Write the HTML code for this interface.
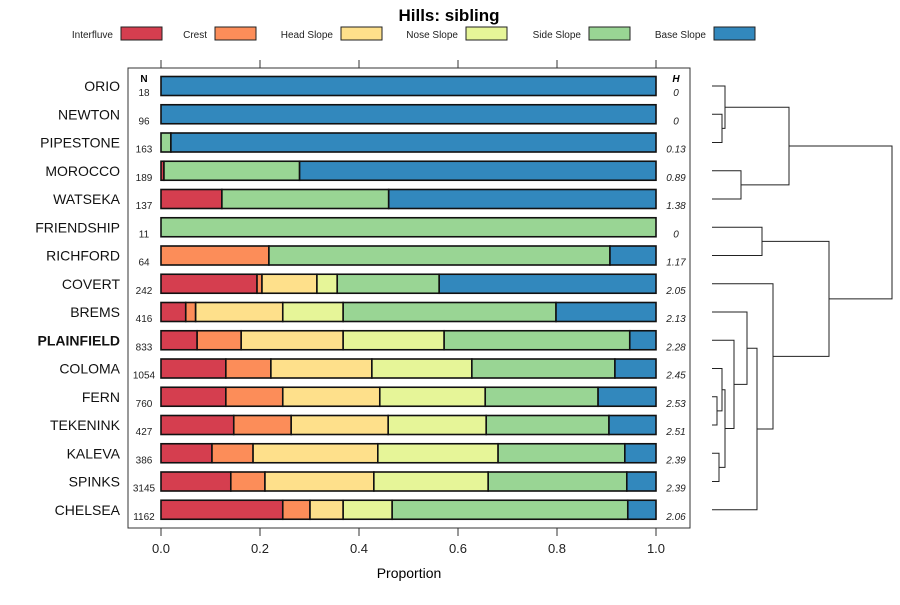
<!DOCTYPE html>
<html><head><meta charset="utf-8"><style>
body{margin:0;background:#fff}
svg text{font-family:"Liberation Sans",sans-serif}
</style></head><body>
<svg id="chart" width="900" height="600" xmlns="http://www.w3.org/2000/svg">
<text x="449" y="21" text-anchor="middle" font-size="17" font-weight="bold">Hills: sibling</text>
<g id="legend"></g>
<rect x="128" y="68" width="562" height="460" fill="none" stroke="#333" stroke-width="1"/>
<g id="axes"></g>
<text x="409" y="578" text-anchor="middle" font-size="14">Proportion</text>
<text x="144" y="82" text-anchor="middle" font-size="10" font-weight="bold">N</text>
<text x="676" y="82" text-anchor="middle" font-size="10" font-weight="bold" font-style="italic">H</text>
<g id="bars"></g>
<g id="dendro"></g>
</svg>
<script>
const sites = ["ORIO","NEWTON","PIPESTONE","MOROCCO","WATSEKA","FRIENDSHIP","RICHFORD","COVERT","BREMS","PLAINFIELD","COLOMA","FERN","TEKENINK","KALEVA","SPINKS","CHELSEA"];
const nValues = ["18","96","163","189","137","11","64","242","416","833","1054","760","427","386","3145","1162"];
const hValues = ["0","0","0.13","0.89","1.38","0","1.17","2.05","2.13","2.28","2.45","2.53","2.51","2.39","2.39","2.06"];
const classes = ["Interfluve","Crest","Head Slope","Nose Slope","Side Slope","Base Slope"];
const colors = ["#D53E4F","#FC8D59","#FEE08B","#E6F598","#99D594","#3288BD"];
const interfluve = [0,0,0,0.006,0.123,0,0,0.194,0.05,0.073,0.131,0.131,0.147,0.103,0.141,0.246];
const crest      = [0,0,0,0,0,0,0.218,0.01,0.02,0.089,0.091,0.115,0.116,0.083,0.069,0.055];
const headSlope  = [0,0,0,0,0,0,0,0.111,0.176,0.206,0.204,0.196,0.196,0.252,0.22,0.067];
const noseSlope  = [0,0,0,0,0,0,0,0.041,0.122,0.204,0.202,0.213,0.198,0.243,0.231,0.099];
const sideSlope  = [0,0,0.02,0.274,0.337,1,0.689,0.206,0.43,0.375,0.289,0.228,0.248,0.256,0.28,0.476];
const baseSlope  = [1,1,0.98,0.72,0.54,0,0.093,0.438,0.202,0.053,0.083,0.117,0.095,0.063,0.059,0.057];
const xTicks = [0,0.2,0.4,0.6,0.8,1.0];
const xTickLabels = ["0.0","0.2","0.4","0.6","0.8","1.0"];
// dendrogram merges: [left, right, height]; negative = leaf index (-(i+1)), positive = merge number (1-based)
const merges = [[-2,-3,0.10],[-1,1,0.13],[-4,-5,0.29],[2,3,0.77],[-6,-7,0.50],[-12,-13,0.05],[-11,6,0.10],[-14,-15,0.07],[7,8,0.13],[-10,9,0.22],[-9,10,0.35],[11,-16,0.45],[-8,12,0.61],[5,13,1.17],[4,14,1.80]];
const series = [interfluve,crest,headSlope,noseSlope,sideSlope,baseSlope];
const NS="http://www.w3.org/2000/svg";
function mk(tag,attrs,parent){const e=document.createElementNS(NS,tag);for(const k in attrs)e.setAttribute(k,attrs[k]);parent.appendChild(e);return e;}
const xs = v => 161 + v*495;
const ys = i => 86 + i*28.25;
// legend
const legG=document.getElementById('legend');
const legX=[121,215,341,466,589,714];
classes.forEach((c,i)=>{
  const t=mk('text',{x:legX[i]-8,y:38,'text-anchor':'end','font-size':10,fill:'#222'},legG);t.textContent=c;
  
  
  const r=mk('rect',{x:legX[i],y:27,width:41,height:13,fill:colors[i],stroke:'#222','stroke-width':1},legG);
  
  
});
// axes
const ax=document.getElementById('axes');
xTicks.forEach((v,i)=>{
  const l1=mk('line',{x1:xs(v),x2:xs(v),y1:60,y2:68,stroke:'#333'},ax);
  
  
  const l2=mk('line',{x1:xs(v),x2:xs(v),y1:528,y2:536,stroke:'#333'},ax);
  
  
  const t=mk('text',{x:xs(v),y:553,'text-anchor':'middle','font-size':13,fill:'#222'},ax);t.textContent=xTickLabels[i];
  
  
});
// bars
const bg=document.getElementById('bars');
sites.forEach((s,i)=>{
  const y=ys(i);
  const lab=mk('text',{x:120,y:y+5,'text-anchor':'end','font-size':14,fill:'#111','font-weight':s==='PLAINFIELD'?'bold':'normal'},bg);lab.textContent=s;
  
  
  const n=mk('text',{x:144,y:y+10,'text-anchor':'middle','font-size':10,fill:'#222'},bg);n.textContent=nValues[i];
  
  
  const h=mk('text',{x:676,y:y+10,'text-anchor':'middle','font-size':10,'font-style':'italic',fill:'#222'},bg);h.textContent=hValues[i];
  
  
  let cum=0;
  series.forEach((arr,k)=>{
    const v=arr[i]; if(v<=0) return;
    const r=mk('rect',{x:xs(cum),y:y-9.5,width:xs(cum+v)-xs(cum),height:19,fill:colors[k],stroke:'#111','stroke-width':1.6},bg);
    
    
    cum+=v;
  });
});
// dendrogram
const dg=document.getElementById('dendro');
const hx = hgt => 712 + hgt*100;
const pos=[];
function nodeInfo(id){ if(id<0) return {y:ys(-id-1),x:712}; return pos[id-1]; }
merges.forEach(m=>{
  const a=nodeInfo(m[0]), b=nodeInfo(m[1]); const X=hx(m[2]);
  const p=mk('path',{d:`M${a.x},${a.y}H${X}V${b.y}H${b.x}`,fill:'none',stroke:'#222','stroke-width':1},dg);
  
  
  pos.push({x:X,y:(a.y+b.y)/2});
});
</script>
</body></html>
